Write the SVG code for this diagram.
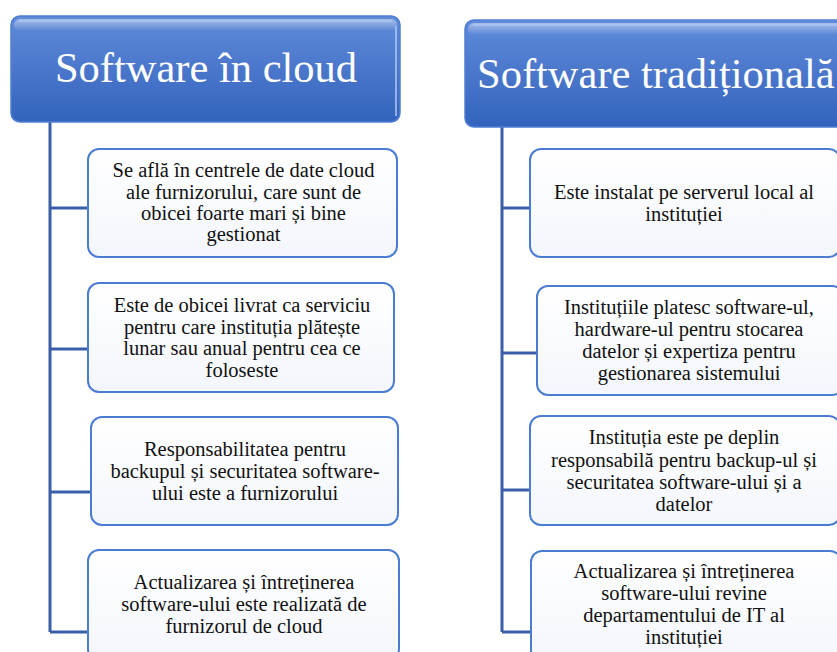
<svg xmlns="http://www.w3.org/2000/svg" width="837" height="652" viewBox="0 0 837 652">
  <defs>
    <linearGradient id="hdr" x1="0" y1="0" x2="0" y2="1">
      <stop offset="0" stop-color="#5f8bd9"/>
      <stop offset="0.5" stop-color="#4a77cb"/>
      <stop offset="1" stop-color="#3363bd"/>
    </linearGradient>
    <linearGradient id="hl" x1="0" y1="0" x2="0" y2="1">
      <stop offset="0" stop-color="#ffffff" stop-opacity="0.45"/>
      <stop offset="1" stop-color="#ffffff" stop-opacity="0"/>
    </linearGradient>
    <linearGradient id="box" x1="0" y1="0" x2="0" y2="1">
      <stop offset="0" stop-color="#ffffff"/>
      <stop offset="1" stop-color="#f3f6fc"/>
    </linearGradient>
  </defs>
  <style>
    .hdr { fill: url(#hdr); stroke: #4f7fd3; stroke-width: 1.5; }
    .hdrhl { fill: none; stroke: #a9c4f0; stroke-width: 2; opacity: 0.8; }
    .hdrtxt { font-family: "Liberation Serif", "Times New Roman", serif; font-size: 42.5px; fill: #ffffff; }
    .box { fill: url(#box); stroke: #4a7dd2; stroke-width: 2; }
    .txt { font-family: "Liberation Serif", "Times New Roman", serif; font-size: 20.5px; fill: #111111; text-anchor: middle; }
    .con { fill: none; stroke: #3b5ea9; stroke-width: 3; }
  </style>
  <rect width="837" height="652" fill="#ffffff"/>

  <g id="connectors">
    <path class="con" d="M50 122 V632 M50 208 H88 M50 349 H88 M50 492 H91 M50 632 H88"/>
    <path class="con" d="M502 127 V632 M502 208 H530 M502 353 H537 M502 490 H530 M502 632 H531"/>
  </g>

  <g id="header-cloud">
    <rect class="hdr" x="11" y="16" width="389" height="106" rx="9"/>
    <rect x="14" y="19" width="383" height="12" rx="6" fill="url(#hl)"/>
    <path class="hdrhl" d="M19 21 H392 M396 26 V116"/>
    <text class="hdrtxt" x="206" y="82" text-anchor="middle">Software în cloud</text>
  </g>

  <g id="header-traditional">
    <rect class="hdr" x="465" y="20" width="392" height="107" rx="9"/>
    <rect x="468" y="23" width="386" height="12" rx="6" fill="url(#hl)"/>
    <path class="hdrhl" d="M473 25 H860"/>
    <text class="hdrtxt" x="477" y="88">Software tradițională</text>
  </g>

  <g id="cloud-1">
    <rect class="box" x="88" y="149" width="309" height="108" rx="11"/>
    <text class="txt"><tspan x="243.5" y="177.3">Se află în centrele de date cloud</tspan><tspan x="243.5" y="198.5">ale furnizorului, care sunt de</tspan><tspan x="243.5" y="219.8">obicei foarte mari și bine</tspan><tspan x="243.5" y="241">gestionat</tspan></text>
  </g>
  <g id="cloud-2">
    <rect class="box" x="88" y="283" width="306" height="109" rx="11"/>
    <text class="txt"><tspan x="242" y="312">Este de obicei livrat ca serviciu</tspan><tspan x="242" y="333.5">pentru care instituția plătește</tspan><tspan x="242" y="355">lunar sau anual pentru cea ce</tspan><tspan x="242" y="376.5">foloseste</tspan></text>
  </g>
  <g id="cloud-3">
    <rect class="box" x="91" y="417" width="307" height="108" rx="11"/>
    <text class="txt"><tspan x="245" y="456">Responsabilitatea pentru</tspan><tspan x="245" y="478">backupul și securitatea software-</tspan><tspan x="245" y="500">ului este a furnizorului</tspan></text>
  </g>
  <g id="cloud-4">
    <rect class="box" x="88" y="550" width="311" height="110" rx="11"/>
    <text class="txt"><tspan x="244" y="589">Actualizarea și întreținerea</tspan><tspan x="244" y="611">software-ului este realizată de</tspan><tspan x="244" y="633">furnizorul de cloud</tspan></text>
  </g>

  <g id="trad-1">
    <rect class="box" x="530" y="149" width="310" height="108" rx="11"/>
    <text class="txt"><tspan x="684" y="199">Este instalat pe serverul local al</tspan><tspan x="684" y="220.5">instituției</tspan></text>
  </g>
  <g id="trad-2">
    <rect class="box" x="537" y="286" width="306" height="109" rx="11"/>
    <text class="txt"><tspan x="689" y="314">Instituțiile platesc software-ul,</tspan><tspan x="689" y="336">hardware-ul pentru stocarea</tspan><tspan x="689" y="358">datelor și expertiza pentru</tspan><tspan x="689" y="380">gestionarea sistemului</tspan></text>
  </g>
  <g id="trad-3">
    <rect class="box" x="530" y="416" width="310" height="109" rx="11"/>
    <text class="txt"><tspan x="684" y="444">Instituția este pe deplin</tspan><tspan x="684" y="466.5">responsabilă pentru backup-ul și</tspan><tspan x="684" y="489">securitatea software-ului și a</tspan><tspan x="684" y="510.5">datelor</tspan></text>
  </g>
  <g id="trad-4">
    <rect class="box" x="531" y="551" width="310" height="110" rx="11"/>
    <text class="txt"><tspan x="684" y="578">Actualizarea și întreținerea</tspan><tspan x="684" y="600">software-ului revine</tspan><tspan x="684" y="622">departamentului de IT al</tspan><tspan x="684" y="643.5">instituției</tspan></text>
  </g>
</svg>
